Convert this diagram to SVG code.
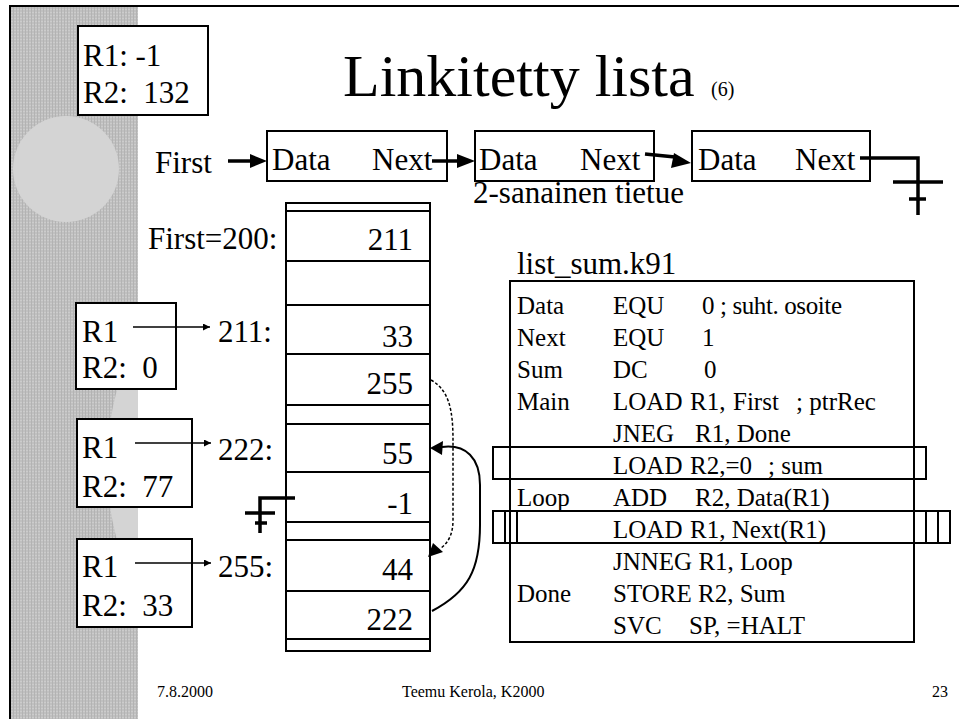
<svg xmlns="http://www.w3.org/2000/svg" width="959" height="719" viewBox="0 0 959 719">
  <defs>
    <style>
      text { font-family: "Liberation Serif", "Times New Roman", serif; fill: #000; }
      .big { font-size: 31px; }
      .code { font-size: 25px; }
      .foot { font-size: 16px; }
      .box { fill: #fff; stroke: #000; stroke-width: 2; }
      .ln { fill: none; stroke: #000; stroke-width: 2; }
      .thin { fill: none; stroke: #000; stroke-width: 1.5; }
      .thick { fill: none; stroke: #000; stroke-width: 3.5; }
      .head { fill: #000; stroke: none; }
    </style>
    <!-- canvas-like texture for the side band -->
    <pattern id="canvas" width="6" height="6" patternUnits="userSpaceOnUse">
      <rect width="6" height="6" fill="#c0c0c0"/>
      <path d="M0 0.5H6M0 3.5H6" stroke="#cccccc" stroke-width="1"/>
      <path d="M1.5 0V6M4.5 0V6" stroke="#b3b3b3" stroke-width="1"/>
    </pattern>
    <clipPath id="band">
      <rect x="11" y="7" width="127" height="712"/>
    </clipPath>
    <marker id="tip" viewBox="0 0 10 10" refX="10" refY="5" markerWidth="7" markerHeight="7" orient="auto" markerUnits="userSpaceOnUse">
      <path d="M0 0L10 5L0 10z" fill="#000"/>
    </marker>
  </defs>

  <!-- slide background and frame -->
  <rect x="10" y="6" width="960" height="720" fill="#fff" stroke="#000" stroke-width="2"/>
  <g id="side-band">
    <rect x="11" y="7" width="127" height="712" fill="url(#canvas)"/>
    <circle cx="66" cy="169" r="53" fill="#d4d4d4"/>
    <circle cx="393" cy="465" r="286" fill="#d4d4d4" clip-path="url(#band)"/>
  </g>

  <!-- title -->
  <g id="title">
    <text x="343" y="96" style="font-size:60px">Linkitetty lista</text>
    <text x="711" y="96" style="font-size:20px">(6)</text>
  </g>

  <!-- final register state -->
  <g id="regs-final">
    <rect class="box" x="78" y="26" width="130" height="89"/>
    <text class="big" x="83" y="66">R1: -1</text>
    <text class="big" x="83" y="103" xml:space="preserve">R2:  132</text>
  </g>

  <!-- linked list records -->
  <g id="list-head">
    <text class="big" x="155" y="173">First</text>
  </g>
  <g id="rec1">
    <rect class="box" x="267" y="131" width="180" height="50"/>
    <text class="big" x="272" y="170">Data</text>
    <text class="big" x="372" y="170">Next</text>
  </g>
  <g id="rec2">
    <rect class="box" x="475" y="131" width="179" height="50"/>
    <text class="big" x="479" y="170">Data</text>
    <text class="big" x="580" y="170">Next</text>
  </g>
  <g id="rec3">
    <rect class="box" x="692" y="131" width="178" height="50"/>
    <text class="big" x="698" y="170">Data</text>
    <text class="big" x="795" y="170">Next</text>
  </g>
  <g id="rec-caption">
    <text class="big" x="473" y="203">2-sanainen tietue</text>
  </g>

  <!-- memory column -->
  <g id="memory">
    <rect class="box" x="286" y="203" width="144" height="448"/>
    <path class="ln" d="M286 211H430M286 261H430M286 305H430M286 354H430M286 405H430M286 424H430M286 472H430M286 522H430M286 540H430M286 591H430M286 639H430"/>
    <g text-anchor="end">
      <text class="big" x="413" y="250">211</text>
      <text class="big" x="413" y="347">33</text>
      <text class="big" x="413" y="394">255</text>
      <text class="big" x="413" y="464">55</text>
      <text class="big" x="413" y="514">-1</text>
      <text class="big" x="413" y="580">44</text>
      <text class="big" x="413" y="630">222</text>
    </g>
  </g>
  <g id="addr-labels">
    <text class="big" x="148" y="249">First=200:</text>
    <text class="big" x="218" y="342">211:</text>
    <text class="big" x="218" y="460">222:</text>
    <text class="big" x="218" y="577">255:</text>
  </g>

  <!-- register snapshots -->
  <g id="regs-1">
    <rect class="box" x="76" y="303" width="100" height="86"/>
    <text class="big" x="82" y="342">R1</text>
    <text class="big" x="82" y="378" xml:space="preserve">R2:  0</text>
  </g>
  <g id="regs-2">
    <rect class="box" x="77" y="419" width="115" height="88"/>
    <text class="big" x="82" y="458">R1</text>
    <text class="big" x="82" y="497" xml:space="preserve">R2:  77</text>
  </g>
  <g id="regs-3">
    <rect class="box" x="77" y="539" width="115" height="88"/>
    <text class="big" x="82" y="577">R1</text>
    <text class="big" x="82" y="616" xml:space="preserve">R2:  33</text>
  </g>

  <!-- program listing -->
  <g id="listing">
    <text class="big" x="517" y="274">list_sum.k91</text>
    <rect class="box" x="510" y="281" width="404" height="361"/>
    <g class="code-lines">
      <text class="code" x="517" y="314">Data</text>
      <text class="code" x="613" y="314">EQU</text>
      <text class="code" x="702" y="314" textLength="140" lengthAdjust="spacing">0 ; suht. osoite</text>

      <text class="code" x="517" y="346">Next</text>
      <text class="code" x="613" y="346">EQU</text>
      <text class="code" x="702" y="346">1</text>

      <text class="code" x="517" y="378">Sum</text>
      <text class="code" x="613" y="378">DC</text>
      <text class="code" x="704" y="378">0</text>

      <text class="code" x="517" y="410">Main</text>
      <text class="code" x="613" y="410">LOAD</text>
      <text class="code" x="690" y="410">R1,</text>
      <text class="code" x="733" y="410">First</text>
      <text class="code" x="796" y="410">; ptrRec</text>

      <text class="code" x="613" y="442">JNEG</text>
      <text class="code" x="695" y="442">R1, Done</text>

      <text class="code" x="613" y="474">LOAD</text>
      <text class="code" x="690" y="474">R2,=0</text>
      <text class="code" x="768" y="474">; sum</text>

      <text class="code" x="517" y="506">Loop</text>
      <text class="code" x="613" y="506">ADD</text>
      <text class="code" x="695" y="506">R2, Data(R1)</text>

      <text class="code" x="613" y="538">LOAD</text>
      <text class="code" x="690" y="538">R1, Next(R1)</text>

      <text class="code" x="613" y="570">JNNEG R1, Loop</text>

      <text class="code" x="517" y="602">Done</text>
      <text class="code" x="613" y="602">STORE R2, Sum</text>

      <text class="code" x="613" y="634">SVC</text>
      <text class="code" x="689" y="634">SP, =HALT</text>
    </g>
    <!-- highlight frames on the loop instructions -->
    <rect class="ln" x="493" y="447" width="433" height="32"/>
    <rect class="ln" x="493" y="511" width="457" height="32"/>
    <rect class="ln" x="505" y="511" width="433" height="32"/>
    <rect class="ln" x="517" y="511" width="409" height="32"/>
  </g>

  <!-- connectors -->
  <g id="connectors">
    <!-- list pointers -->
    <path class="thick" d="M228 161H252"/>
    <polygon class="head" points="267,161 250,154 250,168"/>
    <path class="thick" d="M432 161H457"/>
    <polygon class="head" points="475,161 457,154 457,168"/>
    <path class="thick" d="M645 154L675 157"/>
    <polygon class="head" points="691,163 674,153 671,168"/>
    <!-- null pointer at end of list -->
    <path class="thick" d="M860 158H918V215M893 182H943M909 199H926"/>
    <!-- null pointer stored in memory -->
    <path class="thick" d="M295 498H260V533M245 513H275M255 523H267"/>
    <!-- register R1 pointers -->
    <path class="thin" d="M133 327H210" marker-end="url(#tip)"/>
    <path class="thin" d="M135 443H211" marker-end="url(#tip)"/>
    <path class="thin" d="M135 563H211" marker-end="url(#tip)"/>
    <!-- Next(211) = 255 -->
    <path class="thin" stroke-dasharray="3 2" d="M431 380C449 390 453 410 453 440V520C453 533 449 542 441 548"/>
    <polygon class="head" points="428,557 433,543 443,552"/>
    <!-- Next(255) = 222 -->
    <path class="ln" d="M432 611C468 592 480 570 480 525V485C480 458 466 444 442 447"/>
    <polygon class="head" points="430,448 443,441 442,455"/>
  </g>

  <!-- footer -->
  <g id="footer">
    <text class="foot" x="157" y="697">7.8.2000</text>
    <text class="foot" x="402" y="697">Teemu Kerola, K2000</text>
    <text class="foot" x="932" y="697">23</text>
  </g>
</svg>
